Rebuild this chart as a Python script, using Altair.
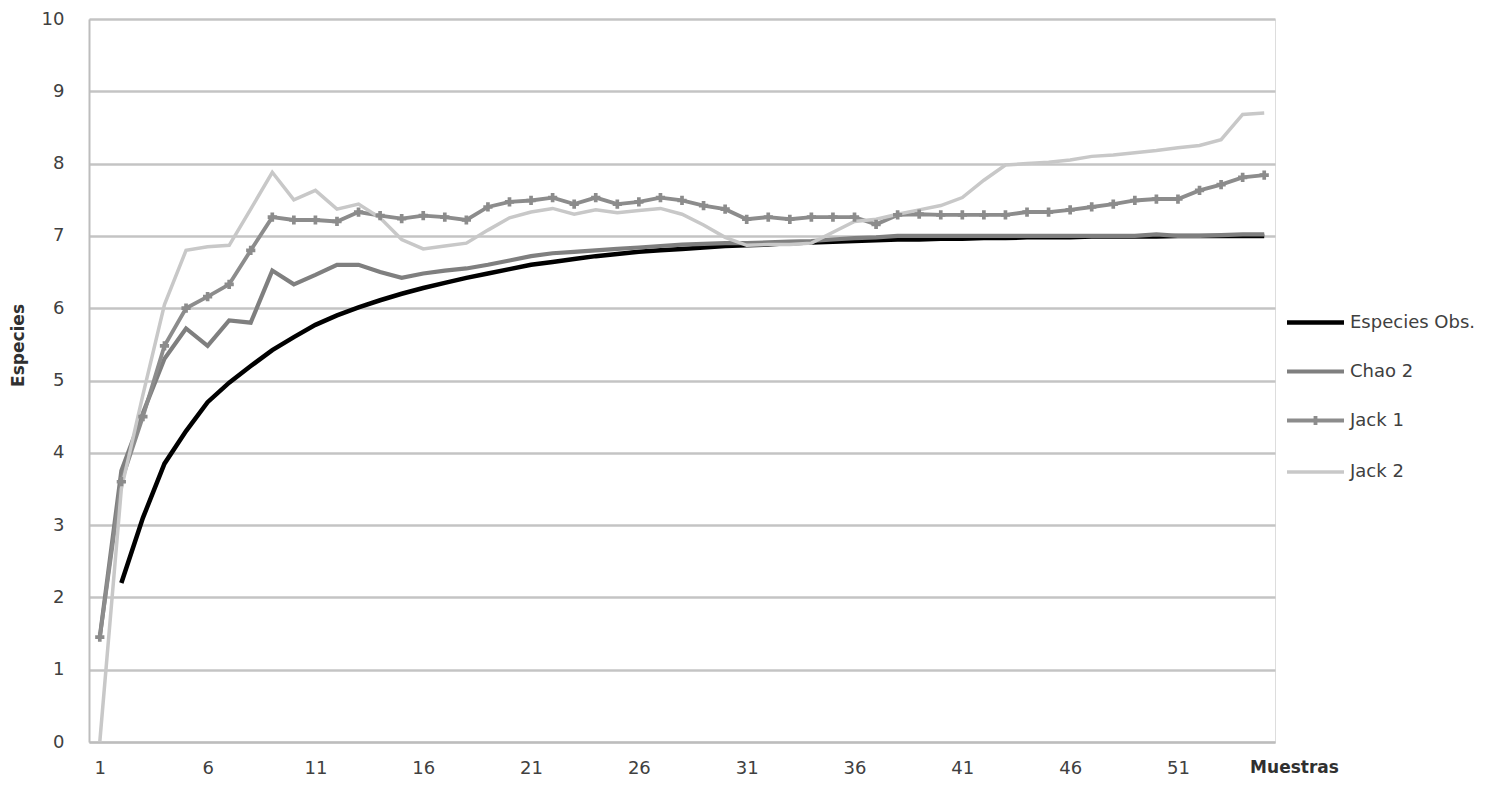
import altair as alt
import pandas as pd

samples = list(range(1, 56))

obs = [None, 2.2, 3.1, 3.85, 4.3, 4.7, 4.97, 5.2, 5.42, 5.6, 5.77, 5.9, 6.01, 6.11, 6.2,
       6.28, 6.35, 6.42, 6.48, 6.54, 6.6, 6.64, 6.68, 6.72, 6.75, 6.78, 6.8, 6.82, 6.84, 6.86,
       6.87, 6.88, 6.9, 6.91, 6.92, 6.93, 6.94, 6.95, 6.95, 6.96, 6.96, 6.97, 6.97, 6.98, 6.98,
       6.98, 6.99, 6.99, 6.99, 6.99, 7.0, 7.0, 7.0, 7.0, 7.0]

chao2 = [1.45, 3.75, 4.55, 5.3, 5.72, 5.48, 5.83, 5.8, 6.52, 6.33, 6.46, 6.6, 6.6, 6.5, 6.42,
         6.48, 6.52, 6.55, 6.6, 6.66, 6.72, 6.76, 6.78, 6.8, 6.82, 6.84, 6.86, 6.88, 6.89, 6.9,
         6.9, 6.91, 6.92, 6.93, 6.95, 6.97, 6.98, 7.0, 7.0, 7.0, 7.0, 7.0, 7.0, 7.0, 7.0,
         7.0, 7.0, 7.0, 7.0, 7.02, 7.0, 7.0, 7.01, 7.02, 7.02]

jack1 = [1.45, 3.6, 4.5, 5.48, 6.0, 6.16, 6.33, 6.8, 7.26, 7.22, 7.22, 7.2, 7.33, 7.28, 7.24,
         7.28, 7.26, 7.22, 7.4, 7.47, 7.49, 7.53, 7.44, 7.53, 7.44, 7.47, 7.53, 7.49, 7.42, 7.37,
         7.23, 7.26, 7.23, 7.26, 7.26, 7.26, 7.16, 7.29, 7.3, 7.29, 7.29, 7.29, 7.29, 7.33, 7.33,
         7.36, 7.4, 7.44, 7.49, 7.51, 7.51, 7.63, 7.71, 7.81, 7.84]

jack2 = [0.0, 3.5, 4.8, 6.05, 6.8, 6.85, 6.87, 7.37, 7.88, 7.5, 7.63, 7.37, 7.44, 7.25, 6.95,
         6.82, 6.86, 6.9, 7.08, 7.25, 7.33, 7.38, 7.3, 7.36, 7.32, 7.35, 7.38, 7.3, 7.15, 6.98,
         6.87, 6.88, 6.88, 6.9, 7.05, 7.2, 7.23, 7.3, 7.36, 7.42, 7.53, 7.77, 7.98, 8.0, 8.02,
         8.05, 8.1, 8.12, 8.15, 8.18, 8.22, 8.25, 8.33, 8.68, 8.7]

series_names = ["Especies Obs.", "Chao 2", "Jack 1", "Jack 2"]
series_colors = ["#000000", "#7f7f7f", "#8c8c8c", "#c8c8c8"]
series_widths = [4.5, 3.5, 3.5, 3.5]
legend_shapes = ["M-2,0H2", "M-2,0H2", "M-2,0H2M0,-0.32V0.32", "M-2,0H2"]
x_tick_values = [1, 6, 11, 16, 21, 26, 31, 36, 41, 46, 51]
y_tick_values = list(range(0, 11))

rows = []
for k, (name, vals) in enumerate(zip(series_names, [obs, chao2, jack1, jack2])):
    for s, v in zip(samples, vals):
        if v is not None:
            rows.append({"Muestra": s, "Especies": v, "Serie": name, "orden": k})
df = pd.DataFrame(rows)

FONT = "DejaVu Sans"

x_enc = alt.X(
    "Muestra:Q",
    scale=alt.Scale(domain=[0.5, 55.5], nice=False, zero=False),
    axis=alt.Axis(
        values=x_tick_values, title="Muestras", grid=False, ticks=False,
        domain=True, domainColor="#bdbdbd", domainWidth=2,
        labelFont=FONT, labelFontSize=18, labelColor="#404040", labelPadding=17,
        titleFont=FONT, titleFontSize=17, titleFontWeight="bold", titleColor="#303030",
        titleX=1205, titleY=25, titleAlign="center", titleBaseline="middle",
    ),
)
y_enc = alt.Y(
    "Especies:Q",
    scale=alt.Scale(domain=[0, 10], nice=False),
    axis=alt.Axis(
        values=y_tick_values, title="Especies", grid=True, gridColor="#c4c4c4", gridWidth=2.5,
        ticks=False, domain=True, domainColor="#bdbdbd", domainWidth=2,
        labelFont=FONT, labelFontSize=18, labelColor="#404040", labelPadding=25,
        titleFont=FONT, titleFontSize=17, titleFontWeight="bold", titleColor="#303030",
        titleX=-71, titleY=326, titleAlign="center", titleBaseline="middle", titleAngle=270,
    ),
)

legend_kwargs = dict(
    title=None, orient="none", legendX=1210, legendY=287, padding=0,
    symbolType="M-2,0H2", symbolSize=812, rowPadding=23, labelOffset=18,
    labelFont=FONT, labelFontSize=18, labelColor="#404040", symbolOpacity=1,
)

color_enc = alt.Color("Serie:N", scale=alt.Scale(domain=series_names, range=series_colors),
                      legend=alt.Legend(**legend_kwargs))
width_enc = alt.StrokeWidth("Serie:N", scale=alt.Scale(domain=series_names, range=series_widths),
                            legend=alt.Legend(**legend_kwargs))

lines = alt.Chart(df).mark_line().encode(
    x=x_enc,
    y=y_enc,
    color=color_enc,
    strokeWidth=width_enc,
    order="Muestra:Q",
)

# empty layer that only feeds the legend symbols (line with a marker for Jack 1)
legend_feed = alt.Chart(df).transform_filter("false").mark_point(filled=False, opacity=1).encode(
    x=x_enc,
    y=y_enc,
    color=color_enc,
    strokeWidth=width_enc,
    shape=alt.Shape("Serie:N", scale=alt.Scale(domain=series_names, range=legend_shapes),
                    legend=alt.Legend(**legend_kwargs)),
)

markers = alt.Chart(df).transform_filter(alt.datum.Serie == "Jack 1").mark_point(
    shape="cross", filled=True, size=85, color="#8c8c8c", opacity=1
).encode(x=x_enc, y=y_enc)

chart = alt.layer(lines, legend_feed, markers).properties(
    width=1186, height=723,
    autosize=alt.AutoSizeParams(type="none"),
    padding={"left": 81, "top": 11, "right": 214, "bottom": 36},
).configure_view(stroke=None).configure(background="white")

chart.save("out.html", embed_options={"renderer": "svg", "actions": False})
